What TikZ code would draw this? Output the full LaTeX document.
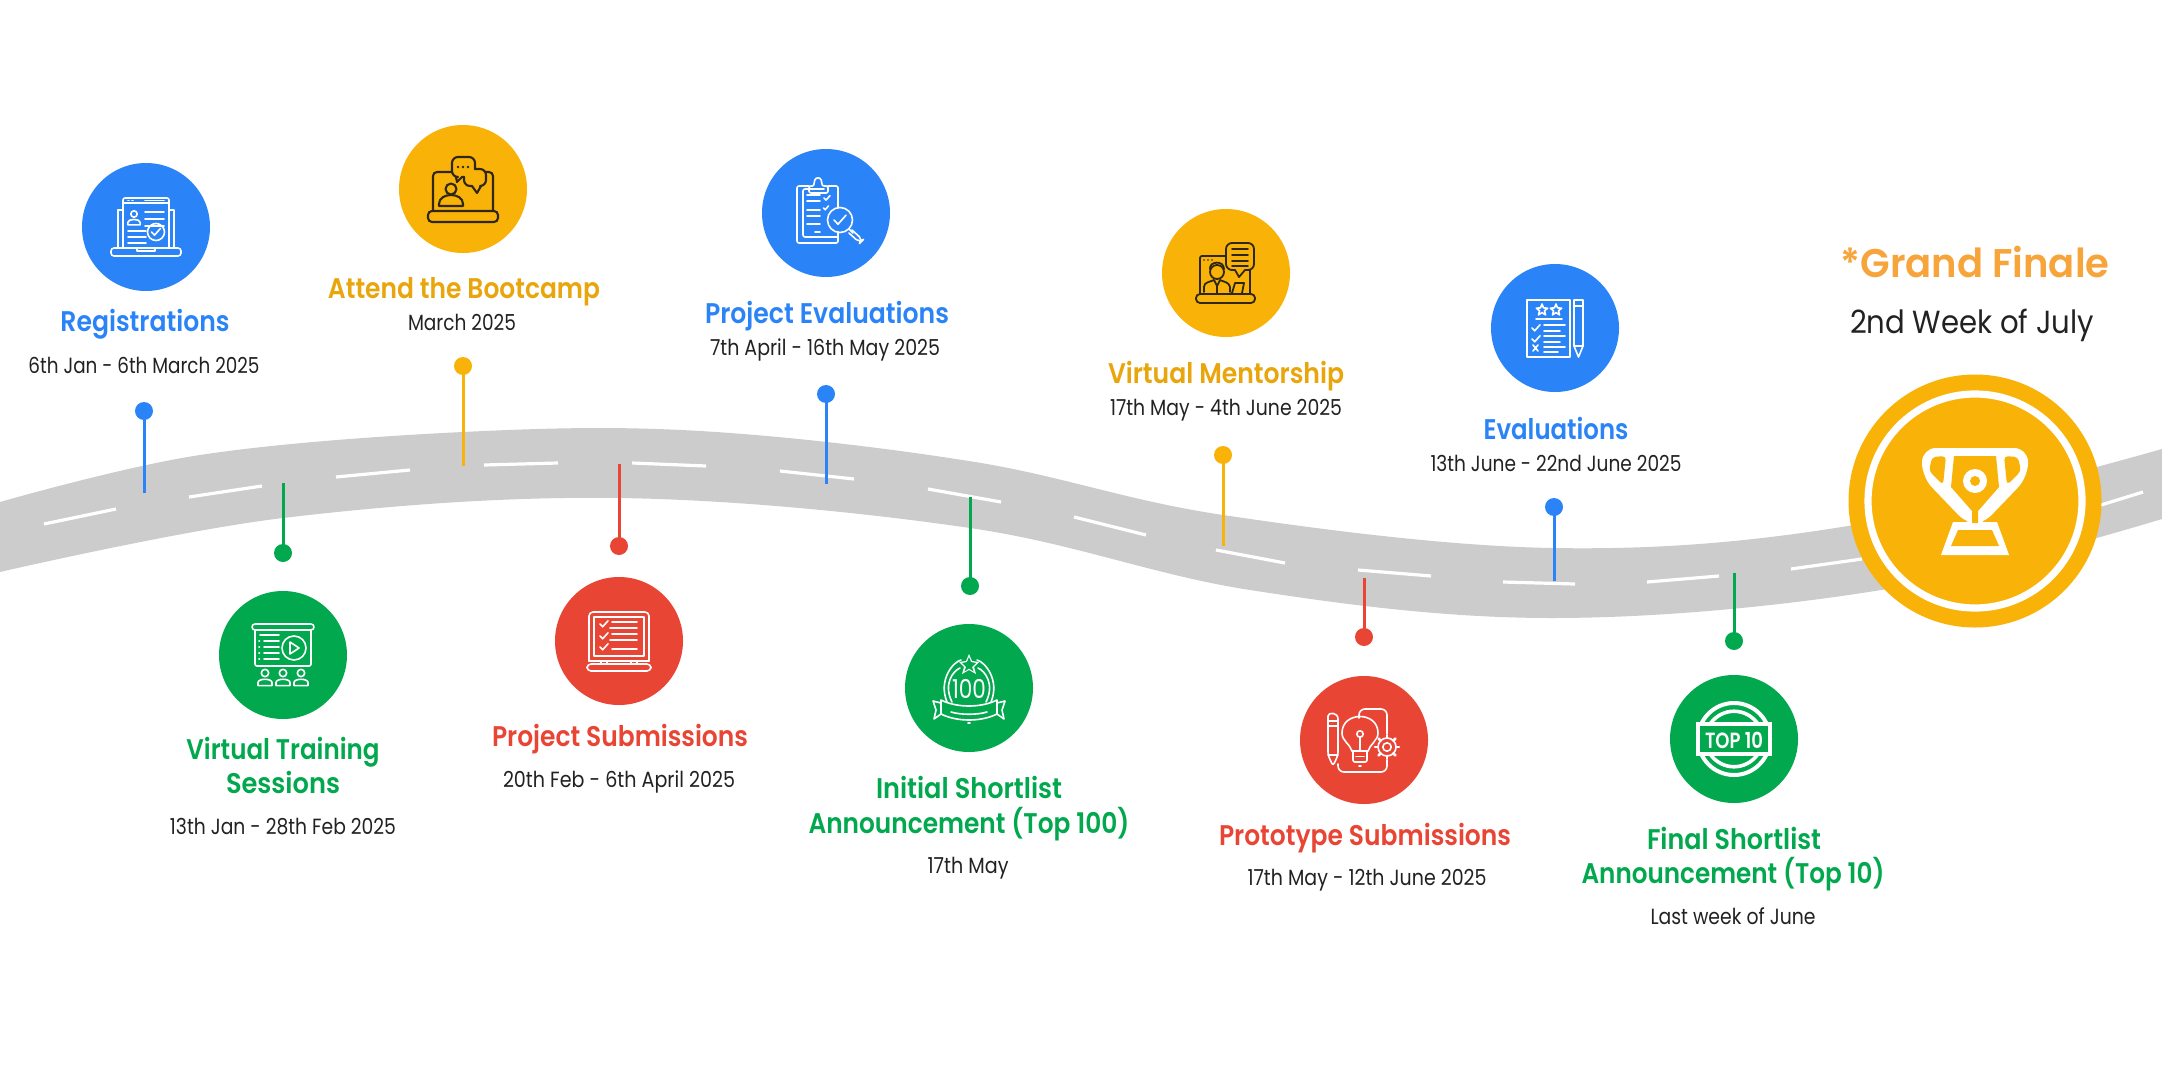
\documentclass[tikz,border=0pt]{standalone}
\usepackage{fontspec}
\usepackage{graphicx}
\setmainfont{Poppins}
\newfontfamily\ttlf{Poppins SemiBold}
\newfontfamily\datf{Poppins}
\definecolor{gblue}{HTML}{2B84F7}
\definecolor{gamber}{HTML}{F9B208}
\definecolor{ggreen}{HTML}{02A84E}
\definecolor{gred}{HTML}{E94535}
\definecolor{tamber}{HTML}{E9A50C}
\definecolor{forange}{HTML}{F7A43B}
\definecolor{roadgrey}{HTML}{CCCCCC}
\definecolor{ink}{HTML}{222222}
\definecolor{icdk}{HTML}{2E2713}
\tikzset{
  x=0.5pt,y=-0.5pt,
  disc/.style={circle,minimum size=64pt,inner sep=0pt,fill=#1},
  pindot/.style={circle,minimum size=9pt,inner sep=0pt,fill=#1},
  pinline/.style={draw=#1,line width=1.5pt},
  lab/.style={anchor=base,inner sep=0pt},
  roaddash/.style={white,line width=1.6pt},
  icw/.style={white,line width=0.8pt,line cap=round,line join=round},
  icd/.style={icdk,line width=1.05pt,line cap=round,line join=round},
}
\newcommand{\ttl}[6]{\node[lab,text=#5] (#1) at (#2,#3) {\resizebox{\dimexpr #4pt/2\relax}{\height}{\fontsize{14.2}{17}\ttlf #6}};}
\newcommand{\dat}[5]{\node[lab,text=ink] (#1) at (#2,#3) {\resizebox{\dimexpr #4pt/2\relax}{\height}{\fontsize{11}{13}\datf #5}};}
\newcommand{\pin}[6]{% name x doty endy colour
  \node[pindot=#5] (#1) at (#2,#3) {};
  \coordinate (#1e) at (#2,#4);
  \draw[pinline=#5] (#1.center) -- (#1e);}
\newcommand{\istar}[3]{\begin{scope}[shift={(#1,#2)}]
  \draw (-90:#3) -- (-54:#3/2.3) -- (-18:#3) -- (18:#3/2.3) -- (54:#3) -- (90:#3/2.3) -- (126:#3) -- (162:#3/2.3) -- (198:#3) -- (234:#3/2.3) -- cycle;
  \end{scope}}
\newcommand{\tick}[3]{\draw (#1-#3,#2) -- (#1-#3/3,#2+#3*0.7) -- (#1+#3,#2-#3*0.8);}
\newcommand{\prs}[3]{% x y(head centre) scale r
  \draw (#1,#2) circle (#3);
  \draw (#1-#3*1.9,#2+#3*3.4) -- (#1-#3*1.9,#2+#3*2.6) .. controls (#1-#3*1.9,#2+#3*1.4) and (#1+#3*1.9,#2+#3*1.4) .. (#1+#3*1.9,#2+#3*2.6) -- (#1+#3*1.9,#2+#3*3.4) -- cycle;}
\begin{document}
\begin{tikzpicture}
\useasboundingbox (0,0) rectangle (2162,1070);
\fill[white] (0,0) rectangle (2162,1070);
% road
\fill[roadgrey] plot[smooth,tension=0.6] coordinates {(0,502) (200,455) (463,432) (700,431) (975,462) (1223,515) (1552,548) (1848,526) (2162,449)}
  -- plot[smooth,tension=0.6] coordinates {(2162,519) (1881,590) (1552,618) (1250,590) (970,528) (619,498) (283,518) (0,572)} -- cycle;
\foreach \a/\b/\c/\d in {44/524/116/509,189/497/262/486,336/477/410/470,484/465/558/463,632/463/706/466,780/471/854/479,928/489/1001/502,1074/517/1146/535,1216/550/1285/563,1358/570/1431/576,1503/582/1575/584,1647/582/1719/576,1791/569/1862/559,2101/505/2143/492}
  \draw[roaddash] (\a,\b) -- (\c,\d);
% pins
\pin{p1}{144}{411}{493}{gblue}{}
\pin{p2}{283}{553}{483}{ggreen}{}
\pin{p3}{463}{366}{466}{gamber}{}
\pin{p4}{619}{546}{464}{gred}{}
\pin{p5}{826}{394}{484}{gblue}{}
\pin{p6}{970}{586}{497}{ggreen}{}
\pin{p7}{1223}{455}{546}{gamber}{}
\pin{p8}{1364}{637}{578}{gred}{}
\pin{p9}{1554}{507}{581}{gblue}{}
\pin{p10}{1734}{641}{573}{ggreen}{}
% discs
\node[disc=gblue] (c1) at (146,227) {};
\node[disc=ggreen] (c2) at (283,655) {};
\node[disc=gamber] (c3) at (463,189) {};
\node[disc=gred] (c4) at (619,641) {};
\node[disc=gblue] (c5) at (826,213) {};
\node[disc=ggreen] (c6) at (969,688) {};
\node[disc=gamber] (c7) at (1226,273) {};
\node[disc=gred] (c8) at (1364,740) {};
\node[disc=gblue] (c9) at (1555,328) {};
\node[disc=ggreen] (c10) at (1734,739) {};
\node[circle,minimum size=126.5pt,inner sep=0pt,fill=gamber] (c11) at (1975,501) {};
\draw[white,line width=3.6pt] (c11.center) circle (107);
% labels
\ttl{t1}{145}{331}{169}{gblue}{Registrations}
\dat{d1}{144}{373}{231}{6th Jan - 6th March 2025}
\ttl{t3}{464}{298}{272}{tamber}{Attend the Bootcamp}
\dat{d3}{462}{330}{108}{March 2025}
\ttl{t5}{827}{323}{244}{gblue}{Project Evaluations}
\dat{d5}{825}{355}{230}{7th April - 16th May 2025}
\ttl{t7}{1226}{383}{236}{tamber}{Virtual Mentorship}
\dat{d7}{1226}{415}{232}{17th May - 4th June 2025}
\ttl{t9}{1556}{439}{145}{gblue}{Evaluations}
\dat{d9}{1556}{471}{251}{13th June - 22nd June 2025}
\node[lab,text=forange] (t11) at (1975,277) {\resizebox{134.5pt}{\height}{\fontsize{20}{24}\ttlf *Grand Finale}};
\node[lab,text=ink] (d11) at (1972,333) {\resizebox{122pt}{\height}{\fontsize{16}{19}\datf 2nd Week of July}};
\ttl{t2a}{283}{759}{193}{ggreen}{Virtual Training}
\ttl{t2b}{283}{793}{114}{ggreen}{Sessions}
\dat{d2}{283}{834}{226}{13th Jan - 28th Feb 2025}
\ttl{t4}{620}{746}{256}{gred}{Project Submissions}
\dat{d4}{619}{787}{232}{20th Feb - 6th April 2025}
\ttl{t6a}{969}{798}{186}{ggreen}{Initial Shortlist}
\ttl{t6b}{969}{833}{321}{ggreen}{Announcement (Top 100)}
\dat{d6}{968}{873}{81}{17th May}
\ttl{t8}{1365}{845}{292}{gred}{Prototype Submissions}
\dat{d8}{1367}{885}{239}{17th May - 12th June 2025}
\ttl{t10a}{1734}{849}{174}{ggreen}{Final Shortlist}
\ttl{t10b}{1733}{883}{303}{ggreen}{Announcement (Top 10)}
\dat{d10}{1733}{924}{165}{Last week of June}
% icon 1: registration laptop
\begin{scope}[shift={(146,227)},icw]
 \draw[rounded corners=1.5pt] (-35,21) rectangle (35,29);
 \draw (-9,21) -- (-9,24) -- (9,24) -- (9,21);
 \draw (-23,-17) -- (-28,-17) -- (-28,21);
 \draw (23,-17) -- (28,-17) -- (28,21);
 \draw[rounded corners=1pt] (-23,21) -- (-23,-29) -- (23,-29) -- (23,21);
 \draw (-23,-24) -- (23,-24);
 \draw (-18,-26.5) -- (-17,-26.5) (-14,-26.5) -- (-13,-26.5) (-1,-26.5) -- (18,-26.5);
 \prs{-12}{-13}{3.2}
 \draw (-1,-15) -- (18,-15) (-1,-8) -- (18,-8) (-1,-1) -- (18,-1);
 \draw (-18,4) -- (0,4) (-18,10) -- (0,10) (-18,16) -- (0,16);
 \draw (10,5) circle (8.5);
 \tick{10}{5}{4.5}
\end{scope}
% icon 2: bootcamp laptop
\begin{scope}[shift={(463,189)},icd]
 \draw[rounded corners=2pt] (-35,22) rectangle (35,33);
 \draw[rounded corners=2pt] (-30,22) -- (-30,-17) -- (-11,-17);
 \draw[rounded corners=2pt] (23,-17) -- (30,-17) -- (30,22);
 \draw[rounded corners=3pt] (-7,-12) -- (-11,-12) -- (-11,-32) -- (12,-32) -- (12,-20);
 \draw (-7,-12) -- (-6,-7) -- (-1,-12) -- (1,-12);
 \draw[rounded corners=3pt] (12,-20) -- (23,-20) -- (23,-3) -- (18,-3);
 \draw[rounded corners=3pt] (1,-12) -- (1,-3) -- (9,-3);
 \draw (9,-3) -- (14,4) -- (18,-3);
 \fill (-5,-22) circle (1.3) (0,-22) circle (1.3) (5,-22) circle (1.3);
 \draw (-12,0) circle (5.5);
 \draw (-24,17) -- (-24,15) .. controls (-24,3) and (0,3) .. (0,15) -- (0,17) -- cycle;
\end{scope}
% icon 3: project evaluations clipboard
\begin{scope}[shift={(826,213)},icw]
 \draw[rounded corners=1pt] (-17,-27) -- (-29,-27) -- (-29,30) -- (12,30) -- (12,19);
 \draw[rounded corners=1pt] (-2,-24) -- (-23,-24) -- (-23,24) -- (12,24);
 \draw[rounded corners=1pt] (2,-27) -- (12,-27) -- (12,-6);
 \draw[rounded corners=1pt] (-17,-20) -- (-17,-27) -- (-12,-27) -- (-12,-31) .. controls (-10,-36) and (-6,-36) .. (-4,-31) -- (-4,-27) -- (2,-27) -- (2,-20) -- cycle;
 \draw (-19,-18) -- (-6,-18) (-19,-12) -- (-6,-12) (-19,-3) -- (-6,-3) (-19,3) -- (-6,3) (-19,11) -- (-6,11) (-11,19) -- (-6,19);
 \tick{1}{-15}{3}
 \tick{0}{-5}{2.5}
 \draw (14,7) circle (12.5);
 \tick{14}{7}{6}
 \draw (23,16) -- (27,20);
 \draw[rounded corners=2.5pt] (26,17) -- (37,27) -- (34,30) -- (23,20);
\end{scope}
% icon 4: mentorship
\begin{scope}[shift={(1226,273)},icd,line width=0.9pt]
 \draw[rounded corners=2pt] (-30,21) rectangle (29,30);
 \draw[rounded corners=1pt] (-26,21) -- (-26,-17) -- (-1,-17);
 \draw (24,-3) -- (24,21);
 \fill (-22,-13) circle (0.9) (-18,-13) circle (0.9) (-14,-13) circle (0.9);
 \draw[rounded corners=3pt] (9,-3) -- (0,-3) -- (0,-30) -- (28,-30) -- (28,-3) -- (19,-3);
 \draw (9,-3) -- (13,4) -- (19,-3);
 \draw (6,-24) -- (22,-24) (6,-18) -- (22,-18) (6,-12) -- (22,-12) (6,-7) -- (22,-7);
 \draw (-9,-1) circle (7);
 \draw (-16,-4) .. controls (-17,-12) and (-2,-13) .. (-2,-4);
 \draw (-22,19) -- (-22,14) .. controls (-22,9) and (-16,9) .. (-12,7) -- (-9,13) -- (-6,7) .. controls (-2,9) and (3,9) .. (4,14) -- (4,19);
 \draw (-9,13) -- (-9,20);
 \draw (6,20) -- (9,10) -- (18,10) -- (16,20);
\end{scope}
% icon 5: evaluations
\begin{scope}[shift={(1555,328)},icw]
 \draw (-28,-28) rectangle (15,29);
 \istar{-13}{-18}{6}
 \istar{1}{-18}{6}
 \draw (-19,-9) -- (7,-9);
 \tick{-19}{0}{4}
 \draw (-11,-3) -- (10,-3) (-11,3) -- (5,3);
 \tick{-19}{11}{4}
 \draw (-11,8) -- (10,8) (-11,14) -- (5,14);
 \draw (-22,17) -- (-17,23) (-22,23) -- (-17,17);
 \draw (-11,19) -- (10,19) (-11,24) -- (3,24);
 \draw (19,-28) rectangle (28,18);
 \draw (19,-22) -- (28,-22);
 \draw (19,18) -- (23.5,29) -- (28,18);
\end{scope}
% icon 6: training
\begin{scope}[shift={(283,655)},icw]
 \draw[rounded corners=1.5pt] (-31,-31) rectangle (31,-25);
 \draw[rounded corners=1pt] (-28,-25) -- (-28,11) -- (28,11) -- (28,-25);
 \draw (-23,-20) -- (-4,-20);
 \foreach \yy in {-14,-8,-2,4} \draw (-24,\yy) -- (-23.5,\yy) (-19,\yy) -- (-4,\yy);
 \draw (11,-7) circle (12);
 \draw (7,-13) -- (7,-1) -- (16,-7) -- cycle;
 \prs{-18}{18}{3.7}
 \prs{0}{18}{3.7}
 \prs{18}{18}{3.7}
\end{scope}
% icon 7: project submission
\begin{scope}[shift={(619,641)},icw]
 \draw[rounded corners=2pt] (-30,20) -- (-30,-29) -- (30,-29) -- (30,20);
 \draw (-25,-24) rectangle (25,15);
 \draw[rounded corners=2pt] (-32,23) rectangle (32,30);
 \draw (-30,20) -- (30,20) (-18,20) -- (-18,23) (-12,20) -- (-12,23) (12,20) -- (12,23) (18,20) -- (18,23);
 \tick{-15}{-17}{4}
 \tick{-15}{-5}{4}
 \tick{-15}{6}{4}
 \draw (-7,-19) -- (18,-19) (-9,-13) -- (18,-13) (-7,-7) -- (18,-7) (-9,-1) -- (18,-1) (-7,8) -- (18,8);
\end{scope}
% icon 8: top 100
\begin{scope}[shift={(969,688)},icw]
 \draw (-22,14) .. controls (-31,-8) and (-16,-26) .. (-8,-28);
 \draw (22,14) .. controls (31,-8) and (16,-26) .. (8,-28);
 \draw (-17,14) .. controls (-26,-4) and (-16,-17) .. (-9,-20);
 \draw (17,14) .. controls (26,-4) and (16,-17) .. (9,-20);
 \fill (0,-34) -- (3,-27) -- (10,-26) -- (5,-21) -- (7,-14) -- (0,-18) -- (-7,-14) -- (-5,-21) -- (-10,-26) -- (-3,-27) -- cycle;
 \fill[ggreen] (0,-31) -- (2,-26) -- (7,-25) -- (3,-21) -- (4.5,-16.5) -- (0,-19.5) -- (-4.5,-16.5) -- (-3,-21) -- (-7,-25) -- (-2,-26) -- cycle;
 \node[inner sep=0pt,text=white] (n100) at (0,1) {\resizebox{17pt}{\height}{\fontsize{13}{15}\datf 100}};
 \draw (-28,12) .. controls (-12,20) and (12,20) .. (28,12) -- (28,26) .. controls (12,34) and (-12,34) .. (-28,26) -- cycle;
 \draw (-28,15) -- (-36,13) -- (-33,22) -- (-35,31) -- (-28,26);
 \draw (28,15) -- (36,13) -- (33,22) -- (35,31) -- (28,26);
 \draw (-18,24) .. controls (-8,27) and (8,27) .. (18,24);
 \draw (-1,35) -- (1,35);
\end{scope}
% icon 9: prototype
\begin{scope}[shift={(1364,740)},icw]
 \draw[rounded corners=1.5pt] (-26,-21) -- (-26,15) -- (-31,26) -- (-36,15) -- (-36,-21) .. controls (-36,-28) and (-26,-28) .. (-26,-21);
 \draw (-36,-19) -- (-26,-19) (-36,-14) -- (-26,-14) (-36,15) -- (-26,15);
 \draw[rounded corners=3pt] (-5,-22) -- (-5,-31) -- (23,-31) -- (23,-4);
 \draw[rounded corners=3pt] (23,19) -- (23,32) -- (-26,32) -- (-26,24);
 \draw (-12,11) .. controls (-14,4) and (-22,1) .. (-22,-7) .. controls (-22,-29) and (14,-29) .. (14,-7) .. controls (14,1) and (6,4) .. (4,11);
 \draw (-12,11) -- (4,11);
 \draw[rounded corners=1pt] (-11,11) -- (-11,22) -- (3,22) -- (3,11);
 \draw (-8,16.5) -- (0,16.5);
 \draw (-4,-6) circle (3.2) (-4,-3) -- (-4,11);
 \draw (-5,26) -- (-3,26);
 \fill[gred] (23,7) circle (13);
 \draw (23,7) circle (9) (23,7) circle (4.2);
 \foreach \aa in {0,45,...,315} \draw[line width=1.3pt] (\aa:9)++(23,7) -- ++(\aa:3);
\end{scope}
% icon 10: top 10
\begin{scope}[shift={(1734,739)},white]
 \draw[line width=2pt] (0,0) circle (36);
 \draw[line width=1.8pt] (-24,-15) .. controls (-12,-32) and (12,-32) .. (24,-15);
 \draw[line width=1.8pt] (-24,15) .. controls (-12,32) and (12,32) .. (24,15);
 \draw[line width=2pt,fill=ggreen] (-36,-15) rectangle (36,15);
 \node[inner sep=0pt,text=white] (n10) at (0,1) {\resizebox{29pt}{\height}{\fontsize{11}{13}\ttlf TOP 10}};
\end{scope}
% trophy
\begin{scope}[shift={(1975,501)}]
 \fill[white,rounded corners=7pt] (-53,-53) -- (53,-53) -- (53,-24) -- (7,24) -- (-7,24) -- (-53,-24) -- cycle;
 \fill[white] (-8,10) rectangle (8,26);
 \fill[white] (-22,21) -- (22,21) -- (34,54) -- (-34,54) -- cycle;
 \fill[gamber] (-17,29) -- (17,29) -- (24,45) -- (-24,45) -- cycle;
 \fill[gamber] (-21,-45) -- (21,-45) -- (24,-14) -- (3,10) -- (3,22) -- (-3,22) -- (-3,10) -- (-24,-14) -- cycle;
 \fill[gamber,rounded corners=2pt] (-29,-45) -- (-43,-44) -- (-46,-30) -- (-32,-16) -- cycle;
 \fill[gamber,rounded corners=2pt] (29,-45) -- (43,-44) -- (46,-30) -- (32,-16) -- cycle;
 \fill[white] (0,-20) circle (12);
 \fill[gamber] (0,-20) circle (5);
\end{scope}
\end{tikzpicture}
\end{document}
